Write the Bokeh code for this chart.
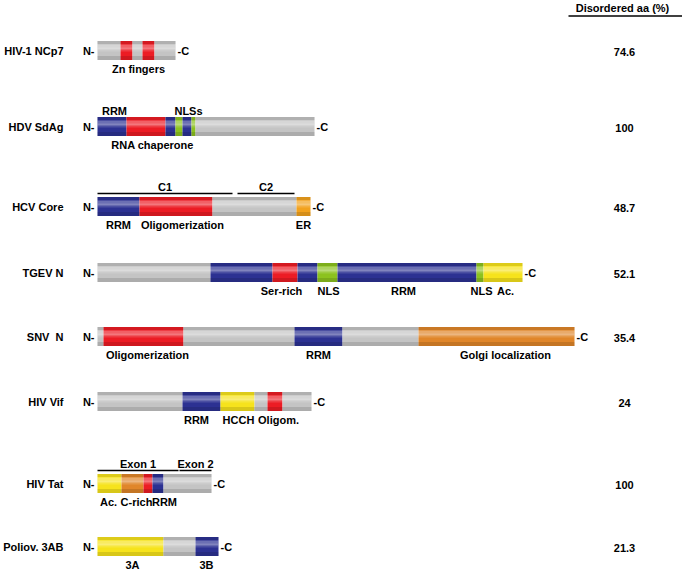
from bokeh.plotting import figure
from bokeh.models import Range1d, ColumnDataSource
from bokeh.core.properties import value
from bokeh.embed import file_html
from bokeh.resources import INLINE

# ---------------- data ----------------
proteins = ["HIV-1 NCp7", "HDV SdAg", "HCV Core", "TGEV N", "SNV\u00a0 N",
            "HIV Vif", "HIV Tat", "Poliov. 3AB"]
disordered_pct = ["74.6", "100", "48.7", "52.1", "35.4", "24", "100", "21.3"]

# domain boundaries (scaled sequence units from N-terminus) and domain kind
ncp7_bounds = [0, 23, 35, 45, 57, 78]
ncp7_kinds = ["other", "red", "other", "red", "other"]
sdag_bounds = [0, 29, 68, 78, 85, 94, 98, 217]
sdag_kinds = ["rrm", "red", "rrm", "nls", "rrm", "nls", "other"]
core_bounds = [0, 42, 115, 199, 213]
core_kinds = ["rrm", "red", "other", "er"]
tgev_bounds = [0, 113, 175, 200, 220, 240, 379, 386, 425]
tgev_kinds = ["other", "rrm", "red", "rrm", "nls", "rrm", "nls", "acid"]
snv_bounds = [0, 6, 86, 197, 245, 321, 477]
snv_kinds = ["other", "red", "other", "rrm", "other", "golgi"]
vif_bounds = [0, 85, 123, 157, 170, 185, 214]
vif_kinds = ["other", "rrm", "acid", "other", "red", "other"]
tat_bounds = [0, 24, 46, 55, 66, 114]
tat_kinds = ["acid", "golgi", "red", "rrm", "other"]
polio_bounds = [0, 66, 98, 121]
polio_kinds = ["acid", "other", "rrm"]

all_bounds = [ncp7_bounds, sdag_bounds, core_bounds, tgev_bounds,
              snv_bounds, vif_bounds, tat_bounds, polio_bounds]
all_kinds = [ncp7_kinds, sdag_kinds, core_kinds, tgev_kinds,
             snv_kinds, vif_kinds, tat_kinds, polio_kinds]

# region brackets above bars
bracket_rows = [2, 2, 6, 6]
bracket_start = [0, 140, 0, 82]
bracket_end = [135, 197, 81, 114]
bracket_labels = ["C1", "C2", "Exon 1", "Exon 2"]

# domain annotations
ann_rows = [0, 1, 1, 1, 2, 2, 2, 3, 3, 3, 3, 3, 4, 4, 4, 5, 5, 5, 6, 6, 6, 7, 7]
ann_x = [41, 17, 91, 55, 21, 85, 206, 184, 231, 306, 384, 408, 50, 221, 408,
         99, 141, 181, 11, 39, 67, 35, 109]
ann_text = ["Zn fingers", "RRM", "NLSs", "RNA chaperone", "RRM", "Oligomerization",
            "ER", "Ser-rich", "NLS", "RRM", "NLS", "Ac.", "Oligomerization", "RRM",
            "Golgi localization", "RRM", "HCCH", "Oligom.", "Ac.", "C-rich", "RRM",
            "3A", "3B"]
ann_above = [False, True, True, False, False, False, False, False, False, False,
             False, False, False, False, False, False, False, False, False, False,
             False, False, False]

# ---------------- styling / layout ----------------
kind_colors = {
    "other": "#c4c4c4",
    "rrm": "#2c3192",
    "red": "#ec1c24",
    "nls": "#8cc21f",
    "acid": "#f6e31c",
    "er": "#f2a21e",
    "golgi": "#e0862a",
}
row_y = [50, 126, 206, 272, 336, 401, 483, 546]
BAR_H = 19
FONT = value("Liberation Sans")

p = figure(width=682, height=569, output_backend="svg", toolbar_location=None,
           x_range=Range1d(-97, 585), y_range=Range1d(569, 0), min_border=0)
p.axis.visible = False
p.grid.visible = False
p.outline_line_color = None
p.background_fill_color = "white"

# segments
seg = dict(x=[], y=[], w=[], c=[])
for yc, bounds, kinds in zip(row_y, all_bounds, all_kinds):
    for a, b, k in zip(bounds[:-1], bounds[1:], kinds):
        seg["x"].append((a + b) / 2)
        seg["y"].append(yc)
        seg["w"].append(b - a)
        seg["c"].append(kind_colors[k])
p.rect(x="x", y="y", width="w", height=BAR_H, fill_color="c", line_color=None,
       source=ColumnDataSource(seg))

# cylinder shading overlays across each whole bar
shade = [(-BAR_H / 2 + 1.5, 3, "black", 0.10),
         (-3.5, 5, "white", 0.30),
         (-1, 4, "white", 0.15),
         (BAR_H / 2 - 2, 4, "black", 0.12)]
for yc, bounds in zip(row_y, all_bounds):
    total = bounds[-1]
    for off, h, col, a in shade:
        p.rect(x=total / 2, y=yc + off, width=total, height=h,
               fill_color=col, fill_alpha=a, line_color=None)

# names, N-/-C, percentages
p.text(x=[-34] * len(proteins), y=row_y, text=proteins, text_font=FONT,
       text_font_style="bold", text_font_size="11px", text_align="right",
       text_baseline="middle", text_color="black")
p.text(x=[-3] * len(proteins), y=row_y, text=["N-"] * len(proteins), text_font=FONT,
       text_font_style="bold", text_font_size="11px", text_align="right",
       text_baseline="middle", text_color="black")
p.text(x=[b[-1] + 2 for b in all_bounds], y=row_y, text=["-C"] * len(proteins),
       text_font=FONT, text_font_style="bold", text_font_size="11px",
       text_align="left", text_baseline="middle", text_color="black")
p.text(x=[527] * len(proteins), y=[y + 1 for y in row_y], text=disordered_pct,
       text_font=FONT, text_font_style="bold", text_font_size="11px",
       text_align="center", text_baseline="middle", text_color="black")

# column header
p.text(x=[525], y=[7], text=["Disordered aa (%)"], text_font=FONT,
       text_font_style="bold", text_font_size="11px", text_align="center",
       text_baseline="middle", text_color="black")
p.segment(x0=[471], y0=[15.5], x1=[585], y1=[15.5], line_color="black", line_width=1.5)

# brackets
by = [row_y[r] - 13 for r in bracket_rows]
p.segment(x0=bracket_start, y0=by, x1=bracket_end, y1=by, line_color="black",
          line_width=1.5)
p.text(x=[(a + b) / 2 for a, b in zip(bracket_start, bracket_end)],
       y=[v - 7 for v in by], text=bracket_labels, text_font=FONT,
       text_font_style="bold", text_font_size="11px", text_align="center",
       text_baseline="middle", text_color="black")

# domain annotations
ay = [row_y[r] - 16 if up else row_y[r] + 18 for r, up in zip(ann_rows, ann_above)]
p.text(x=ann_x, y=ay, text=ann_text, text_font=FONT, text_font_style="bold",
       text_font_size="11px", text_align="center", text_baseline="middle",
       text_color="black")

open("out.html", "w").write(file_html(p, INLINE))
